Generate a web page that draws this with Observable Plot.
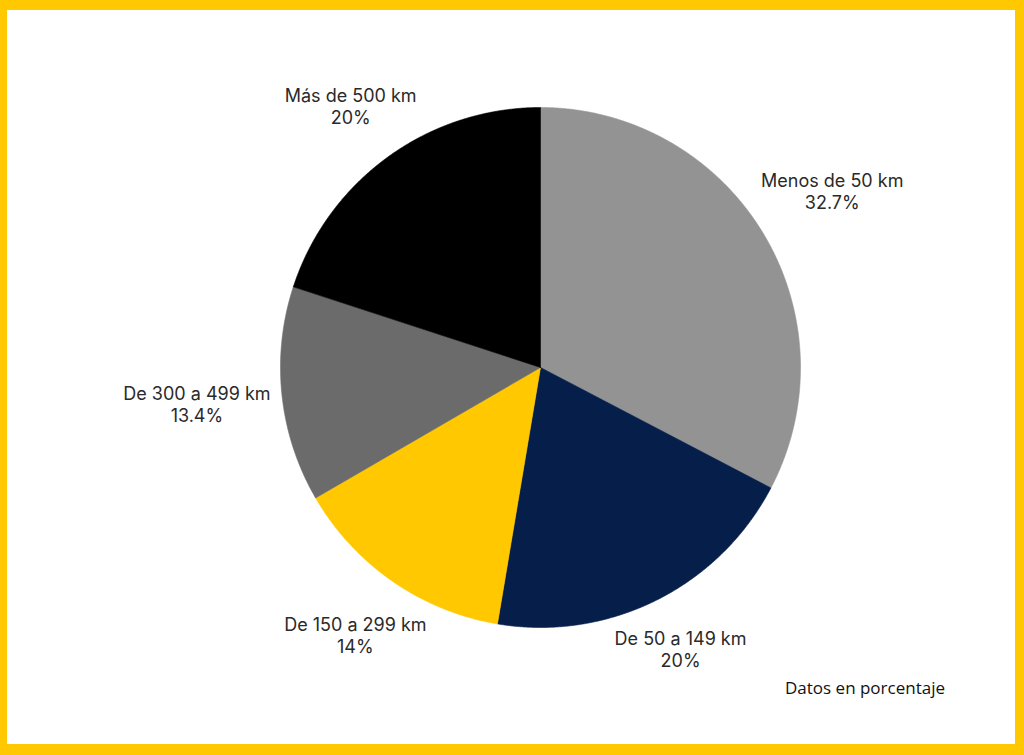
<!DOCTYPE html>
<html><head><meta charset="utf-8">
<script src="https://cdn.jsdelivr.net/npm/d3@7"></script>
<script src="https://cdn.jsdelivr.net/npm/@observablehq/plot@0.6"></script>
<style>
html,body{margin:0;padding:0;}
body{width:1024px;height:755px;background:#ffc800;position:relative;overflow:hidden;}
#panel{position:absolute;left:7px;top:10px;width:1008px;height:734px;background:#fff;}
#chart{position:absolute;left:0;top:0;}
#caption{position:absolute;left:785px;top:676px;font-family:"Open Sans",sans-serif;font-size:17px;font-weight:500;color:#111;white-space:nowrap;}
</style></head><body>
<div id="panel"></div>
<div id="chart"></div>
<div id="caption">Datos en porcentaje</div>
<script>
const categories = ["Menos de 50 km", "De 50 a 149 km", "De 150 a 299 km", "De 300 a 499 km", "Más de 500 km"];
const values = [32.7, 20, 14, 13.4, 20];
const valueLabels = ["32.7%", "20%", "14%", "13.4%", "20%"];
const colors = ["#939393", "#061e4a", "#ffc800", "#6b6b6b", "#000000"];

const W = 1024, H = 755;
const cx = 540, cy = 367, r = 260;
const labelFont = "Inter";
const labelSize = 18;
const lineH = 22;

const data = categories.map((c, i) => ({category: c, value: values[i], label: valueLabels[i], color: colors[i]}));
const arcs = d3.pie().sort(null).value(d => d.value).startAngle(0).endAngle(2 * Math.PI)(data);

function slicePoints(a) {
  const pts = [{x: 0, y: 0}];
  const n = Math.max(2, Math.ceil((a.endAngle - a.startAngle) / 0.004));
  for (let k = 0; k <= n; k++) {
    const t = a.startAngle + (a.endAngle - a.startAngle) * k / n;
    pts.push({x: Math.sin(t) * r, y: -Math.cos(t) * r});
  }
  pts.push({x: 0, y: 0});
  return pts;
}

const ctx = document.createElement("canvas").getContext("2d");
ctx.font = `${labelSize}px ${labelFont}`;
const labels = arcs.map(a => {
  const m = (a.startAngle + a.endAngle) / 2;
  const lines = [a.data.category, a.data.label];
  const w = Math.max(...lines.map(s => ctx.measureText(s).width));
  const h = lines.length * lineH;
  const d = r + 2 + (w / 2 + 8) * Math.abs(Math.sin(m)) + (h / 2) * Math.abs(Math.cos(m));
  return {x: Math.sin(m) * d, y: -Math.cos(m) * d, text: lines.join("\n")};
});

const chart = Plot.plot({
  width: W,
  height: H,
  margin: 0,
  x: {domain: [-cx, W - cx], range: [0, W], axis: null},
  y: {domain: [-cy, H - cy], range: [0, H], axis: null},
  style: {background: "transparent", overflow: "visible"},
  marks: [
    ...arcs.map(a => Plot.line(slicePoints(a), {x: "x", y: "y", fill: a.data.color, stroke: a.data.color, strokeWidth: 0.6, curve: "linear"})),
    Plot.text(labels, {x: "x", y: "y", text: "text", fill: "#2a2a2a", fontSize: labelSize, fontFamily: labelFont, lineHeight: lineH / labelSize, textAnchor: "middle"})
  ]
});
document.getElementById("chart").appendChild(chart);
</script>
</body></html>
